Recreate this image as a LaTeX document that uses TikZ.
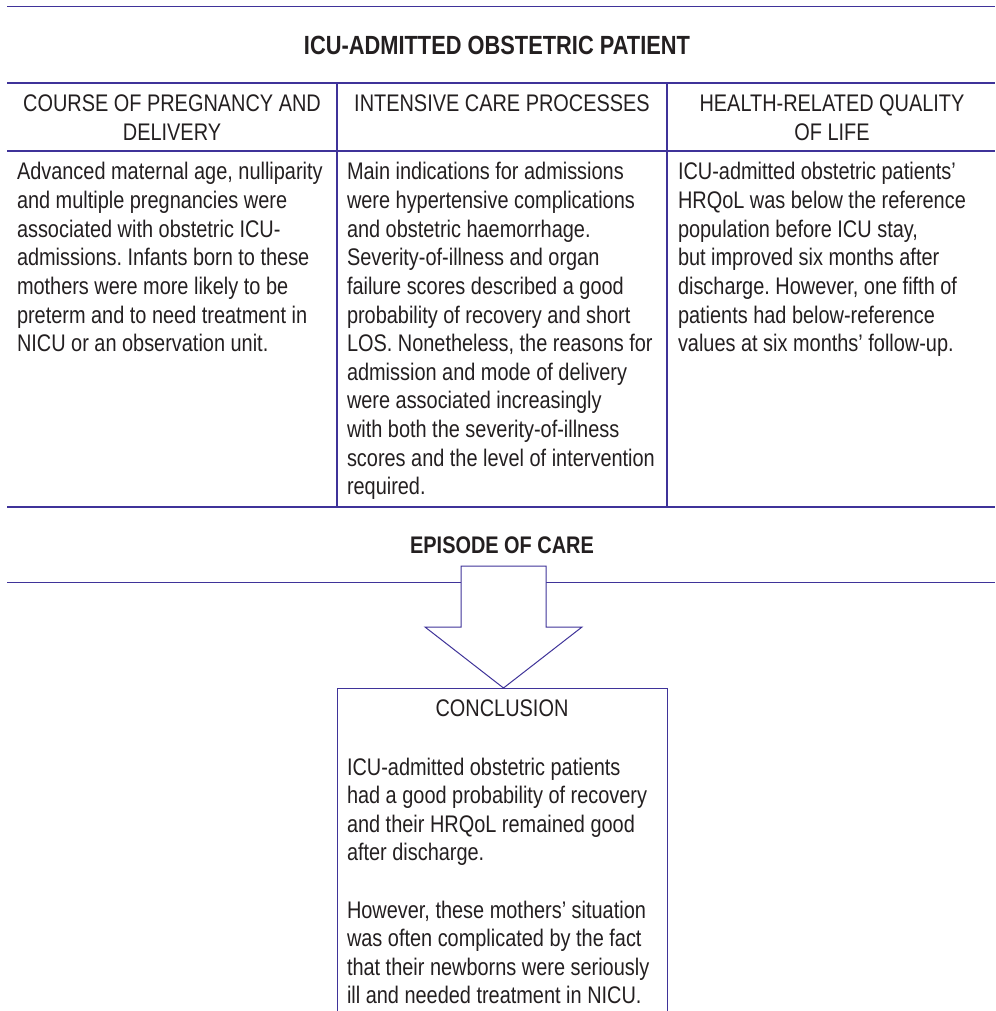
\documentclass[tikz,border=0pt]{standalone}
\usepackage{fontspec}
\setmainfont{Liberation Sans}[FakeStretch=0.83]
\frenchspacing
\definecolor{ln}{RGB}{63,51,153}
\definecolor{tx}{RGB}{35,31,32}
\newcommand\leftlines[1]{\vtop{\halign{##\hfil\cr#1\crcr}}}
\newcommand\centerlines[1]{\vtop{\halign{\hfil##\hfil\cr#1\crcr}}}
\tikzset{
  txt/.style={inner sep=0pt, outer sep=0pt, text=tx, font=\fontsize{24pt}{28.6pt}\selectfont},
  bodytxt/.style={txt, anchor=base west},
  headtxt/.style={txt, anchor=base},
  titletxt/.style={txt, anchor=base, font=\bfseries\fontsize{26.3pt}{32pt}\selectfont},
  subtitletxt/.style={txt, anchor=base, font=\bfseries\fontsize{24pt}{28.6pt}\selectfont},
  rule/.style={draw=ln, line width=1.3pt},
  thinrule/.style={draw=ln, line width=1pt},
  arrowshape/.style={draw=ln, line width=1pt, fill=white, line join=miter},
}
\begin{document}
\begin{tikzpicture}[x=1pt, y=-1pt]
\useasboundingbox (0,0) rectangle (995,1011);

% table rules
\draw[thinrule] (7,7) -- (995,7);
\draw[rule] (7,83) -- (995,83);
\draw[rule] (7,151) -- (995,151);
\draw[rule] (7,507) -- (995,507);
\draw[rule] (337,83) -- (337,507);
\draw[rule] (667,83) -- (667,507);

% title
\node[titletxt] (title) at (497,55) {ICU-ADMITTED OBSTETRIC PATIENT};

% column headers
\node[headtxt] (h1) at (172,112) {\centerlines{COURSE OF PREGNANCY AND\cr DELIVERY}};
\node[headtxt] (h2) at (502,112) {\centerlines{INTENSIVE CARE PROCESSES}};
\node[headtxt] (h3) at (832,112) {\centerlines{HEALTH-RELATED QUALITY\cr OF LIFE}};

% column bodies
\node[bodytxt] (b1) at (17,180) {\leftlines{Advanced maternal age, nulliparity\cr
and multiple pregnancies were\cr
associated with obstetric ICU-\cr
admissions. Infants born to these\cr
mothers were more likely to be\cr
preterm and to need treatment in\cr
NICU or an observation unit.}};

\node[bodytxt] (b2) at (347,180) {\leftlines{Main indications for admissions\cr
were hypertensive complications\cr
and obstetric haemorrhage.\cr
Severity-of-illness and organ\cr
failure scores described a good\cr
probability of recovery and short\cr
LOS. Nonetheless, the reasons for\cr
admission and mode of delivery\cr
were associated increasingly\cr
with both the severity-of-illness\cr
scores and the level of intervention\cr
required.}};

\node[bodytxt] (b3) at (678,180) {\leftlines{ICU-admitted obstetric patients’\cr
HRQoL was below the reference\cr
population before ICU stay,\cr
but improved six months after\cr
discharge. However, one fifth of\cr
patients had below-reference\cr
values at six months’ follow-up.}};

% episode of care
\node[subtitletxt] (episode) at (502,553) {EPISODE OF CARE};
\draw[thinrule] (7,582) -- (461,582);
\draw[thinrule] (546,582) -- (995,582);
\draw[arrowshape] (461,566) -- (546,566) -- (546,627) -- (582,627) -- (503.5,688)
  -- (425,627) -- (461,627) -- cycle;

% conclusion box
\draw[thinrule] (337,1011) -- (337,688) -- (667,688) -- (667,1011);
\node[headtxt] (conchead) at (502,716) {CONCLUSION};
\node[bodytxt] (conc) at (347,775) {\leftlines{ICU-admitted obstetric patients\cr
had a good probability of recovery\cr
and their HRQoL remained good\cr
after discharge.\cr
\cr
However, these mothers’ situation\cr
was often complicated by the fact\cr
that their newborns were seriously\cr
ill and needed treatment in NICU.}};
\end{tikzpicture}
\end{document}
